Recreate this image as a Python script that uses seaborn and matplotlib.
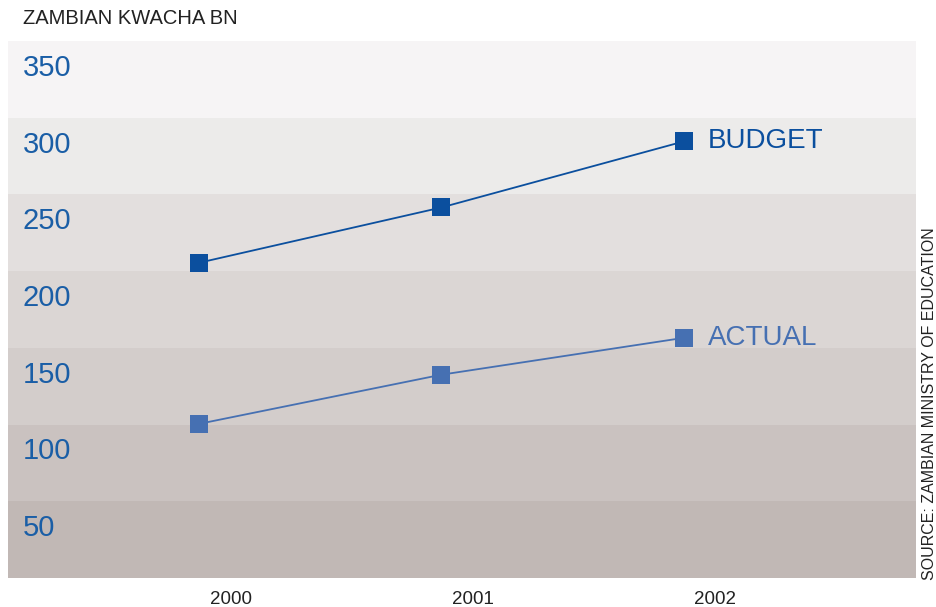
import numpy as np
import pandas as pd
import seaborn as sns
import matplotlib.pyplot as plt
import matplotlib.transforms as mtransforms

sns.set_style("white")
plt.rcParams['font.family'] = ['Liberation Sans', 'DejaVu Sans']

# data (Zambian kwacha, bn)
years = [2000, 2001, 2002]
budget = [223, 259, 302]
actual = [118, 150, 174]
series_names = ["BUDGET", "ACTUAL"]
y_labels = [50, 100, 150, 200, 250, 300, 350]

df = pd.DataFrame({
    "year": years * 2,
    "value": budget + actual,
    "series": ["BUDGET"] * 3 + ["ACTUAL"] * 3,
})

colors = {"BUDGET": "#0b4f9e", "ACTUAL": "#4670b2"}
band_colors = ["#c1b8b5", "#cac2c0", "#d3cdcb", "#dbd6d4",
               "#e3dfde", "#ecebea", "#f6f4f5"]

fig = plt.figure(figsize=(9.37, 6.07), dpi=100)
ax = fig.add_axes([8 / 937, 29 / 607, 908 / 937, 537 / 607])

# shaded horizontal bands, one per label
for v, c in zip(y_labels, band_colors):
    ax.axhspan(v - 32.5, v + 17.5, color=c, lw=0, zorder=0)

sns.lineplot(data=df, x="year", y="value", hue="series", palette=colors,
             marker="s", markersize=13, markeredgewidth=0, lw=1.3,
             legend=False, ax=ax, zorder=3)

ax.set_xlim(years[0] - 0.79, years[0] + 2.96)
ax.set_ylim(17.5, 367.5)

# y labels inside the plot
trans = mtransforms.blended_transform_factory(ax.transAxes, ax.transData)
for v in y_labels:
    ax.text(15 / 908, v, str(v), transform=trans, color="#1a5ea6",
            fontsize=21, va="center", ha="left")

# series labels next to the last point
for name, vals in zip(series_names, [budget, actual]):
    ax.text(years[-1] + 0.1, vals[-1], name, color=colors[name],
            fontsize=20, va="center", ha="left")

ax.set_yticks([])
ax.set_xticks([y + 0.13 for y in years], [str(y) for y in years])
ax.tick_params(axis="x", length=0, labelsize=13.5, labelcolor="#222222", pad=9)
ax.set_xlabel("")
ax.set_ylabel("")
for s in ax.spines.values():
    s.set_visible(False)

fig.text(23 / 937, 1 - 19 / 607, "ZAMBIAN KWACHA BN", fontsize=14.5,
         color="#222222", va="center", ha="left")
fig.text(930 / 937, 1 - 404 / 607, "SOURCE: ZAMBIAN MINISTRY OF EDUCATION",
         fontsize=11.5, color="#222222", rotation=90, va="center", ha="center")

fig.savefig("out.png", dpi=100)
